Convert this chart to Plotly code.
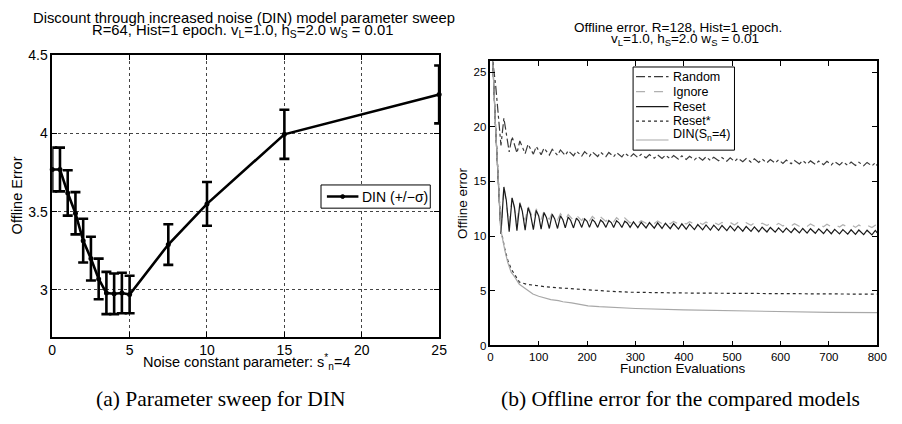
import plotly.graph_objects as go

# ---------------- Left panel data: DIN parameter sweep ----------------
noise_const = [0, 0.5, 1, 1.5, 2, 2.5, 3, 3.5, 4, 4.5, 5, 7.5, 10, 15, 25]
din_mean = [3.77, 3.77, 3.62, 3.49, 3.315, 3.20, 3.07, 2.98, 2.975, 2.98, 2.97, 3.29, 3.55, 3.995, 4.25]
din_sigma = [0.14, 0.14, 0.145, 0.135, 0.14, 0.14, 0.13, 0.135, 0.13, 0.13, 0.12, 0.13, 0.14, 0.157, 0.185]

# ---------------- Right panel data: offline error curves ----------------
start_evals = [1, 5, 11]
random_start = [27, 26, 23.8]
ignore_start = [27, 26, 19.8]
reset_start = [27, 26, 19.8]

# evaluations at which the (oscillating) curves reach a local minimum / maximum
trough_evals = [22, 39, 55, 72, 89, 105, 122, 139, 155, 172, 189, 205, 222, 239, 255, 272,
                289, 305, 322, 339, 355, 372, 389, 405, 422, 439, 455, 472, 489, 505, 522,
                539, 555, 572, 589, 605, 622, 639, 655, 672, 689, 705, 722, 739, 755, 772, 789]
peak_evals = [28, 45, 61, 78, 95, 111, 128, 145, 161, 178, 195, 211, 228, 245, 261, 278,
              296, 312, 329, 346, 362, 379, 396, 412, 429, 446, 462, 479, 496, 512, 529,
              546, 562, 579, 596, 612, 629, 646, 662, 679, 696, 712, 729, 746, 762, 779, 796]
decline_evals = [33, 50, 66, 83, 100, 116, 133, 150, 166, 183, 200, 216, 233, 250, 266, 283]
end_eval = [800]

random_troughs = [18.3, 17.7, 17.6, 17.55, 17.5, 17.45, 17.42, 17.4, 17.38, 17.35, 17.33, 17.3,
                  17.28, 17.27, 17.26, 17.25,
                  17.22, 17.19, 17.16, 17.13, 17.1, 17.07, 17.04, 17.01, 16.98, 16.95, 16.92,
                  16.89, 16.86, 16.83, 16.8, 16.77, 16.74, 16.71, 16.68, 16.65, 16.62, 16.6,
                  16.58, 16.56, 16.54, 16.52, 16.5, 16.48, 16.46, 16.44, 16.42]
random_peaks = [20.8, 19.1, 18.7, 18.4, 18.2, 18.05, 17.95, 17.88, 17.82, 17.77, 17.73, 17.7,
                17.67, 17.65, 17.63, 17.6,
                17.52, 17.49, 17.46, 17.43, 17.4, 17.37, 17.34, 17.31, 17.28, 17.25, 17.22,
                17.19, 17.16, 17.13, 17.1, 17.07, 17.04, 17.01, 16.98, 16.95, 16.92, 16.9,
                16.88, 16.86, 16.84, 16.82, 16.8, 16.78, 16.76, 16.74, 16.72]
random_end = [16.45]

ignore_troughs = [10.3, 11.0, 11.3, 11.45, 11.5, 11.52, 11.52, 11.5, 11.48, 11.45, 11.42, 11.4,
                  11.37, 11.34, 11.3, 11.25,
                  11.2, 11.19, 11.17, 11.16, 11.14, 11.13, 11.12, 11.1, 11.09, 11.07, 11.06,
                  11.04, 11.03, 11.02, 11.0, 10.99, 10.97, 10.96, 10.95, 10.93, 10.92, 10.9,
                  10.89, 10.87, 10.86, 10.85, 10.83, 10.82, 10.8, 10.79, 10.78]
ignore_peaks = [14.6, 13.6, 13.1, 12.75, 12.5, 12.3, 12.15, 12.05, 11.97, 11.9, 11.85, 11.8,
                11.76, 11.72, 11.69, 11.66,
                11.42, 11.41, 11.39, 11.38, 11.36, 11.35, 11.34, 11.32, 11.31, 11.29, 11.28,
                11.26, 11.25, 11.24, 11.22, 11.21, 11.19, 11.18, 11.17, 11.15, 11.14, 11.12,
                11.11, 11.09, 11.08, 11.07, 11.05, 11.04, 11.02, 11.01, 11.0]
ignore_end = [10.88]

reset_troughs = [10.2, 10.4, 10.5, 10.55, 10.6, 10.65, 10.7, 10.7, 10.75, 10.75, 10.8, 10.8,
                 10.8, 10.8, 10.8, 10.8,
                 10.8, 10.78, 10.75, 10.73, 10.7, 10.68, 10.65, 10.63, 10.6, 10.58, 10.55,
                 10.53, 10.5, 10.48, 10.45, 10.43, 10.4, 10.38, 10.36, 10.34, 10.32, 10.3,
                 10.28, 10.26, 10.24, 10.22, 10.2, 10.18, 10.16, 10.14, 10.12]
reset_peaks = [14.5, 13.5, 13.0, 12.6, 12.35, 12.15, 12.0, 11.85, 11.75, 11.65, 11.58, 11.52,
               11.47, 11.43, 11.4, 11.37,
               11.3, 11.27, 11.24, 11.21, 11.18, 11.15, 11.12, 11.09, 11.06, 11.03, 11.0,
               10.97, 10.94, 10.91, 10.88, 10.85, 10.82, 10.79, 10.76, 10.74, 10.72, 10.7,
               10.68, 10.66, 10.64, 10.62, 10.6, 10.58, 10.56, 10.54, 10.52]
reset_declines = [13.3, 12.6, 12.3, 12.0, 11.85, 11.7, 11.6, 11.5, 11.45, 11.4, 11.35, 11.3,
                  11.27, 11.24, 11.22, 11.2]
reset_end = [10.3]

smooth_evals = [1, 5, 11, 22, 30, 36, 43, 50, 60, 75, 88, 100, 114, 125, 141, 150, 168,
                185, 202, 225, 250, 290, 300, 400, 500, 600, 700, 800]
reset_star_err = [27, 26, 19.8, 10.6, 8.8, 7.8, 7.0, 6.5, 5.8, 5.6, 5.5, 5.45, 5.37, 5.32,
                  5.27, 5.25, 5.18, 5.12, 5.07, 5.0, 4.95, 4.87, 4.86, 4.8, 4.77, 4.73,
                  4.71, 4.69]
din_err = [27, 26, 19.8, 10.5, 8.7, 7.6, 6.7, 6.3, 5.6, 5.1, 4.7, 4.5, 4.33, 4.2, 4.1, 4.0,
           3.9, 3.75, 3.63, 3.55, 3.48, 3.4, 3.38, 3.25, 3.16, 3.08, 3.03, 3.0]


def merge(*pairs):
    pts = []
    for xs, ys in pairs:
        pts.extend(zip(xs, ys))
    pts.sort(key=lambda p: p[0])
    return [p[0] for p in pts], [p[1] for p in pts]


rand_x, rand_y = merge((start_evals, random_start), (trough_evals, random_troughs),
                       (peak_evals, random_peaks), (end_eval, random_end))
ign_x, ign_y = merge((start_evals, ignore_start), (trough_evals, ignore_troughs),
                     (peak_evals, ignore_peaks), (end_eval, ignore_end))
res_x, res_y = merge((start_evals, reset_start), (trough_evals, reset_troughs),
                     (peak_evals, reset_peaks), (decline_evals, reset_declines),
                     (end_eval, reset_end))

W, H = 902, 424
def px(x):
    return x / W
def py(y):
    return 1 - y / H

FONT = "Liberation Sans, Arial, Helvetica, sans-serif"
SERIF = "Liberation Serif, Times New Roman, serif"

fig = go.Figure()

fig.add_trace(go.Scatter(
    x=noise_const, y=din_mean, mode="lines+markers", name="DIN (+/\u2212\u03c3)",
    line=dict(color="black", width=2.6), marker=dict(color="black", size=5),
    error_y=dict(type="data", array=din_sigma, visible=True, color="black",
                 thickness=2.6, width=5),
    cliponaxis=False, xaxis="x", yaxis="y", showlegend=False))

styles = [
    ("Random", rand_x, rand_y, "#3a3a3a", "dashdot"),
    ("Ignore", ign_x, ign_y, "#b0b0b0", "dash"),
    ("Reset", res_x, res_y, "#1a1a1a", "solid"),
    ("Reset*", smooth_evals, reset_star_err, "#2a2a2a", "dot"),
    ("DIN(S<sub>n</sub>=4)", smooth_evals, din_err, "#a8a8a8", "solid"),
]
for name, xs, ys, col, dash in styles:
    fig.add_trace(go.Scatter(
        x=xs, y=ys, mode="lines", name=name,
        line=dict(color=col, width=1.2, dash=dash),
        xaxis="x2", yaxis="y2", showlegend=False))

def axis_common(size):
    return dict(showline=True, linecolor="black", linewidth=1.5, mirror="ticks",
                ticks="inside", ticklen=5, tickcolor="black", zeroline=False,
                tickfont=dict(family=FONT, size=size, color="black"))

fig.update_layout(
    width=W, height=H, margin=dict(l=0, r=0, t=0, b=0),
    paper_bgcolor="white", plot_bgcolor="white", showlegend=False,
    font=dict(family=FONT, color="black"),
    xaxis=dict(domain=[px(49), px(442)], range=[0, 25], tickvals=[0, 5, 10, 15, 20, 25],
               showgrid=True, gridcolor="#444", griddash="dot", gridwidth=1,
               anchor="y", **axis_common(14)),
    yaxis=dict(domain=[py(340), py(49)], range=[2.7, 4.5], tickvals=[3, 3.5, 4, 4.5],
               showgrid=True, gridcolor="#444", griddash="dot", gridwidth=1,
               anchor="x", **axis_common(14)),
    xaxis2=dict(domain=[px(494), px(887)], range=[0, 800], dtick=100, showgrid=False,
                anchor="y2", **axis_common(11.5)),
    yaxis2=dict(domain=[py(349), py(55)], range=[0, 26], dtick=5, showgrid=False,
                anchor="x2", **axis_common(11.5)),
)

ann = []
shapes = []
def add_text(text, x, y, size, family=FONT, textangle=0, xanchor="center"):
    ann.append(dict(text=text, x=px(x), y=py(y), xref="paper", yref="paper",
                    showarrow=False, xanchor=xanchor, yanchor="middle", borderpad=0,
                    textangle=textangle, font=dict(family=family, size=size, color="black")))

# titles
add_text("Discount through increased noise (DIN) model parameter sweep", 244, 10, 14.8)
add_text("R=64, Hist=1 epoch. v<sub>L</sub>=1.0, h<sub>S</sub>=2.0 w<sub>S</sub> = 0.01", 242, 23.5, 14.8)
add_text("Offline error. R=128, Hist=1 epoch.", 685, 20, 13.5)
add_text("v<sub>L</sub>=1.0, h<sub>S</sub>=2.0 w<sub>S</sub> = 0.01", 692, 33, 13.5)
# axis titles
add_text("Offline Error", 13, 194, 14.5, textangle=-90)
add_text("Offline error", 466, 202, 13.5, textangle=-90)
add_text("Noise constant parameter: s<sup>*</sup><sub>n</sub>=4", 246, 366, 14.5)
add_text("Function Evaluations", 690, 373, 13.5)
# captions
add_text("(a) Parameter sweep for DIN", 220, 404, 21.5, family=SERIF)
add_text("(b) Offline error for the compared models", 687, 404, 21.5, family=SERIF)

# legend of left panel
shapes.append(dict(type="rect", xref="paper", yref="paper", x0=px(322), x1=px(433),
                   y0=py(207), y1=py(183), line=dict(color="black", width=1),
                   fillcolor="white", layer="above"))
shapes.append(dict(type="line", xref="paper", yref="paper", x0=px(328), x1=px(360),
                   y0=py(195), y1=py(195), line=dict(color="black", width=2.6), layer="above"))
shapes.append(dict(type="circle", xref="paper", yref="paper", x0=px(342), x1=px(346),
                   y0=py(197), y1=py(193), line=dict(color="black", width=1),
                   fillcolor="black", layer="above"))
add_text("DIN (+/\u2212\u03c3)", 363, 195, 14, xanchor="left")

# legend of right panel
shapes.append(dict(type="rect", xref="paper", yref="paper", x0=px(639), x1=px(742),
                   y0=py(147), y1=py(61), line=dict(color="black", width=1),
                   fillcolor="white", layer="above"))
legend_y = [71, 86.5, 102, 117, 131]
line_y = [71, 86.5, 102, 117, 136.5]
for (name, xs, ys, col, dash), ty, ly in zip(styles, legend_y, line_y):
    shapes.append(dict(type="line", xref="paper", yref="paper", x0=px(642), x1=px(675),
                       y0=py(ly), y1=py(ly), line=dict(color=col, width=1.2, dash=dash),
                       layer="above"))
    add_text(name, 679, ty, 12.5, xanchor="left")

fig.update_layout(annotations=ann, shapes=shapes)

fig.write_html("out.html")
